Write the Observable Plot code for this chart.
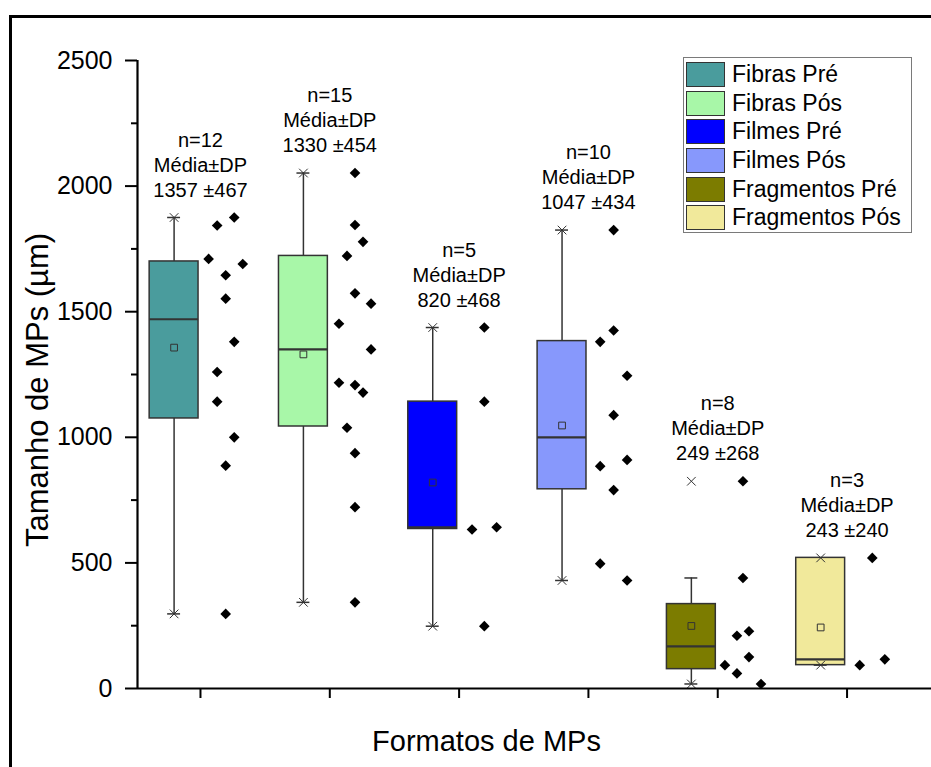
<!DOCTYPE html>
<html>
<head>
<meta charset="utf-8">
<script src="https://cdn.jsdelivr.net/npm/d3@7"></script>
<script src="https://cdn.jsdelivr.net/npm/@observablehq/plot@0.6"></script>
<style>
  html, body { margin: 0; padding: 0; background: #fff; overflow: hidden; }
  #wrap { position: relative; width: 931px; height: 767px; overflow: hidden; font-family: "Liberation Sans", Arial, sans-serif; color: #000; }
  #frame { position: absolute; left: 9px; top: 15px; width: 1000px; height: 800px; border: 3px solid #000; }
  #chart { position: absolute; left: 0; top: 0; }
  #legend { position: absolute; left: 683px; top: 57px; width: 229px; height: 176px; box-sizing: border-box;
            border: 1px solid #7a7a7a; background: #fff; padding-top: 2px; }
  .row { display: flex; align-items: center; height: 28.7px; }
  .sw { width: 39px; height: 25px; box-sizing: border-box; border: 1.5px solid #333; margin-left: 2px; margin-right: 7px; }
  .lt { font-size: 23px; line-height: 1; white-space: nowrap; }
  #xlabel { position: absolute; left: 486.5px; top: 727px; transform: translateX(-50%); font-size: 29px; line-height: 1; white-space: nowrap; }
  #ylabel { position: absolute; left: 36.5px; top: 390px; transform: translate(-50%, -50%) rotate(-90deg); font-size: 31px; line-height: 1; white-space: nowrap; }
</style>
</head>
<body>
<div id="wrap">
  <div id="frame"></div>
  <div id="chart"></div>
  <div id="legend"></div>
  <div id="xlabel"></div>
  <div id="ylabel"></div>
</div>
<script>
// ---------- data ----------
const groups = ["Fibras Pré", "Fibras Pós", "Filmes Pré", "Filmes Pós", "Fragmentos Pré", "Fragmentos Pós"];
const colors = ["#4a9c9d", "#a8f7a8", "#0000ff", "#8798fc", "#7c7c00", "#f1e99b"];

const q1          = [1075, 1043, 635, 793, 77, 93];
const medians     = [1470, 1350, 642, 1000, 168, 116];
const q3          = [1700, 1722, 1142, 1383, 336, 520];
const whiskerLow  = [297, 343, 248, 430, 18, 93];
const whiskerHigh = [1875, 2052, 1437, 1825, 440, 520];
const minima      = [297, 343, 248, 430, 18, 93];
const maxima      = [1875, 2052, 1437, 1825, 825, 520];
const means       = [1357, 1330, 820, 1047, 249, 243];
const sds         = [467, 454, 468, 434, 268, 240];

const fibrasPre = [1875, 1843, 1710, 1690, 1645, 1552, 1380, 1260, 1142, 1000, 887, 297];
const fibrasPos = [2052, 1845, 1778, 1722, 1573, 1532, 1452, 1350, 1217, 1208, 1178, 1038, 937, 722, 343];
const filmesPre = [1437, 1142, 633, 642, 248];
const filmesPos = [1825, 1425, 1380, 1245, 1088, 910, 885, 790, 497, 430];
const fragPre   = [825, 440, 210, 228, 125, 93, 60, 18];
const fragPos   = [520, 93, 116];

// jitter column rank of each point (as seen in the reference)
const fibrasPreCols = [1, -1, -2, 2, 0, 0, 1, -1, -1, 1, 0, 0];
const fibrasPosCols = [0, 0, 1, -1, 0, 2, -2, 2, -2, 0, 1, -1, 0, 0, 0];
const filmesPreCols = [0, 0, -1, 1, 0];
const filmesPosCols = [0, 0, -1, 1, 0, 1, -1, 0, -1, 1];
const fragPreCols   = [0, 0, -0.5, 0.5, 0.5, -1.5, -0.5, 1.5];
const fragPosCols   = [0, -1, 1];

const yTicks = [0, 500, 1000, 1500, 2000, 2500];
const yMinorTicks = [250, 750, 1250, 1750, 2250];
const xLabel = "Formatos de MPs";
const yLabel = "Tamanho de MPs (µm)";

// ---------- build tables ----------
const pointSets = [fibrasPre, fibrasPos, filmesPre, filmesPos, fragPre, fragPos];
const colSets = [fibrasPreCols, fibrasPosCols, filmesPreCols, filmesPosCols, fragPreCols, fragPosCols];
const stats = groups.map((g, i) => ({
  group: g, i, q1: q1[i], median: medians[i], q3: q3[i],
  lo: whiskerLow[i], hi: whiskerHigh[i], min: minima[i], max: maxima[i],
  mean: means[i], sd: sds[i], n: pointSets[i].length
}));
const points = pointSets.flatMap((vals, i) => vals.map((v, k) => ({i, group: groups[i], v, col: colSets[i][k]})));
const extremes = stats.flatMap(d => [{i: d.i, v: d.min}, {i: d.i, v: d.max}]);

// ---------- layout constants ----------
const X_DOMAIN = [-0.487, 5.653];
const BOX_OFF = -0.204, BOX_HW = 0.189, CAP_HW = 0.05, PT_OFF = 0.195;
const STEP = [0.066, 0.062, 0.095, 0.104, 0.093, 0.097];
const bx = d => d.i + BOX_OFF;
const lineC = "#333";

const chart = Plot.plot({
  width: 931, height: 767,
  marginTop: 60, marginBottom: 79, marginLeft: 137, marginRight: 0,
  style: {fontFamily: "'Liberation Sans', Arial, sans-serif", background: "transparent", color: "#000"},
  x: {type: "linear", domain: X_DOMAIN, axis: null},
  y: {domain: [0, 2500], axis: null},
  color: {domain: groups, range: colors},
  marks: [
    // whiskers
    Plot.ruleX(stats, {x: bx, y1: "q3", y2: "hi", stroke: lineC, strokeWidth: 1.5}),
    Plot.ruleX(stats, {x: bx, y1: "q1", y2: "lo", stroke: lineC, strokeWidth: 1.5}),
    Plot.ruleY(stats, {y: "hi", x1: d => bx(d) - CAP_HW, x2: d => bx(d) + CAP_HW, stroke: lineC, strokeWidth: 1.5}),
    Plot.ruleY(stats, {y: "lo", x1: d => bx(d) - CAP_HW, x2: d => bx(d) + CAP_HW, stroke: lineC, strokeWidth: 1.5}),
    // boxes
    Plot.rectY(stats, {x1: d => bx(d) - BOX_HW, x2: d => bx(d) + BOX_HW, y1: "q1", y2: "q3", fill: "group", stroke: lineC, strokeWidth: 1.5}),
    Plot.ruleY(stats, {y: "median", x1: d => bx(d) - BOX_HW, x2: d => bx(d) + BOX_HW, stroke: lineC, strokeWidth: 2.2}),
    // mean
    Plot.dot(stats, {x: bx, y: "mean", symbol: "square", r: 3.8, stroke: lineC, strokeWidth: 1, fill: "none"}),
    // min / max
    Plot.dot(extremes, {x: d => d.i + BOX_OFF, y: "v", symbol: "times", r: 4, stroke: lineC, strokeWidth: 1}),
    // data points
    Plot.dot(points, {x: d => d.i + PT_OFF + d.col * STEP[d.i], y: "v", symbol: "diamond2", r: 4.8, fill: "#000", stroke: "none"}),
    // annotations
    Plot.text(stats, {
      x: "i", y: "max",
      text: d => `n=${d.n}\nMédia±DP\n${d.mean} ±${d.sd}`,
      lineAnchor: "bottom", lineHeight: 1.25, dy: -21, fontSize: 20, fill: "#000"
    }),
    // axes
    Plot.axisY({ticks: yTicks, tickSize: 12, tickPadding: 13, fontSize: 25, strokeWidth: 2, label: null, tickFormat: d => String(d)}),
    Plot.axisY({ticks: yMinorTicks, tickSize: 6, strokeWidth: 2, label: null, tickFormat: () => ""}),
    Plot.axisX({ticks: d3.range(groups.length), tickSize: 10, strokeWidth: 2, label: null, tickFormat: () => ""}),
    Plot.ruleX([X_DOMAIN[0]], {stroke: "#000", strokeWidth: 2.2}),
    Plot.ruleY([0], {stroke: "#000", strokeWidth: 2.2})
  ]
});
document.getElementById("chart").appendChild(chart);

// legend
const color = chart.scale("color");
const legend = document.getElementById("legend");
groups.forEach(g => {
  const row = document.createElement("div");
  row.className = "row";
  const sw = document.createElement("div");
  sw.className = "sw";
  sw.style.background = color.apply(g);
  const t = document.createElement("span");
  t.className = "lt";
  t.textContent = g;
  row.appendChild(sw); row.appendChild(t);
  legend.appendChild(row);
});
document.getElementById("xlabel").textContent = xLabel;
document.getElementById("ylabel").textContent = yLabel;
</script>
</body>
</html>
